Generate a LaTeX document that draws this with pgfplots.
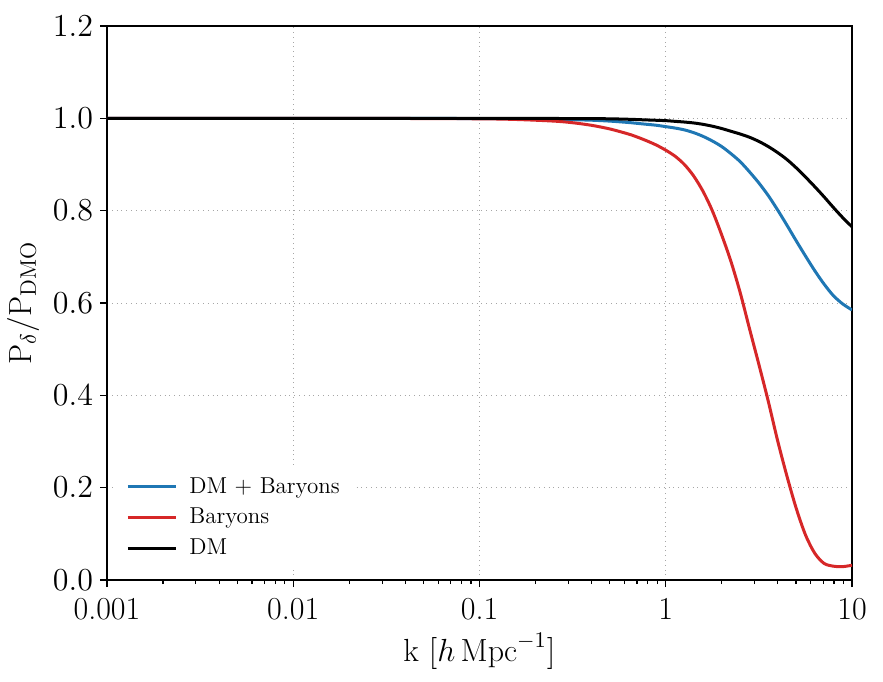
\documentclass[border=0pt]{standalone}
\usepackage{fix-cm}
\usepackage{fontspec}
\usepackage{pgfplots}
\pgfplotsset{compat=1.18}

\definecolor{tabblue}{HTML}{1F77B4}
\definecolor{tabred}{HTML}{D62728}

% Suppression ratio of the matter power spectrum, P_delta / P_DMO
\pgfplotstableread{
k       dmb     bar     dm
0.001   1.0     1.0     1.0
0.01    1.0     1.0     1.0
0.0316  1.0     0.9998  1.0
0.1     0.9995  0.999   1.0
0.1585  0.999   0.9975  1.0
0.2512  0.998   0.994   0.9997
0.3162  0.997   0.9905  0.9995
0.3981  0.996   0.985   0.9993
0.5012  0.994   0.977   0.999
0.6310  0.991   0.966   0.998
0.7079  0.989   0.959   0.9973
0.7943  0.987   0.951   0.9965
0.8913  0.985   0.942   0.9958
1.0     0.982   0.931   0.995
1.122   0.979   0.918   0.9935
1.259   0.975   0.900   0.992
1.413   0.969   0.875   0.990
1.585   0.961   0.842   0.987
1.778   0.951   0.800   0.983
1.995   0.939   0.748   0.978
2.239   0.9235  0.690   0.972
2.512   0.906   0.622   0.966
2.818   0.884   0.544   0.959
3.162   0.860   0.467   0.950
3.548   0.833   0.388   0.939
3.981   0.802   0.303   0.926
4.467   0.769   0.226   0.911
5.012   0.735   0.156   0.893
5.623   0.702   0.098   0.873
6.310   0.670   0.058   0.852
7.079   0.641   0.036   0.830
7.943   0.616   0.030   0.807
8.913   0.598   0.029   0.785
10      0.585   0.032   0.765
}\ratio

\begin{document}
\begin{tikzpicture}
\begin{axis}[
  scale only axis,
  width=372.5pt, height=277pt,
  xmode=log,
  xmin=0.001, xmax=10,
  ymin=0, ymax=1.2,
  xtick={0.001,0.01,0.1,1,10},
  xticklabels={0.001,0.01,0.1,1,10},
  ytick={0,0.2,...,1.2},
  yticklabel style={/pgf/number format/fixed,/pgf/number format/fixed zerofill,/pgf/number format/precision=1},
  tick label style={font=\fontsize{16}{19}\selectfont},
  xticklabel style={yshift=-2pt},
  label style={font=\fontsize{16}{19}\selectfont},
  xlabel={k $[h\,\mathrm{Mpc}^{-1}]$},
  ylabel={$\mathrm{P}_\delta/\mathrm{P}_\mathrm{DMO}$},
  axis line style={line width=0.8pt},
  tick align=outside,
  tickpos=left,
  major tick length=3.5pt,
  minor tick length=2pt,
  every tick/.style={black, line width=0.6pt},
  grid=major,
  major grid style={dotted, gray!70, line width=0.5pt},
  legend style={at={(0,0)}, anchor=south west, xshift=4.5pt, yshift=5pt,
    draw=none, fill=white, font=\fontsize{11.5}{14}\selectfont,
    row sep=2pt, inner xsep=5pt, inner ysep=4pt},
  legend cell align=left,
  legend image code/.code={\draw[#1] (0pt,0pt) -- (24pt,0pt); \path (28pt,0pt);},
  every axis plot/.append style={line width=1.5pt},
]
\addplot[tabblue, smooth] table[x=k, y=dmb] {\ratio};
\addlegendentry{DM + Baryons}
\addplot[tabred, smooth] table[x=k, y=bar] {\ratio};
\addlegendentry{Baryons}
\addplot[black, smooth] table[x=k, y=dm] {\ratio};
\addlegendentry{DM}
\end{axis}
\useasboundingbox ([xshift=-53.5pt,yshift=-50.5pt]current axis.south west) rectangle ([xshift=15.5pt,yshift=13pt]current axis.north east);
\end{tikzpicture}
\end{document}
